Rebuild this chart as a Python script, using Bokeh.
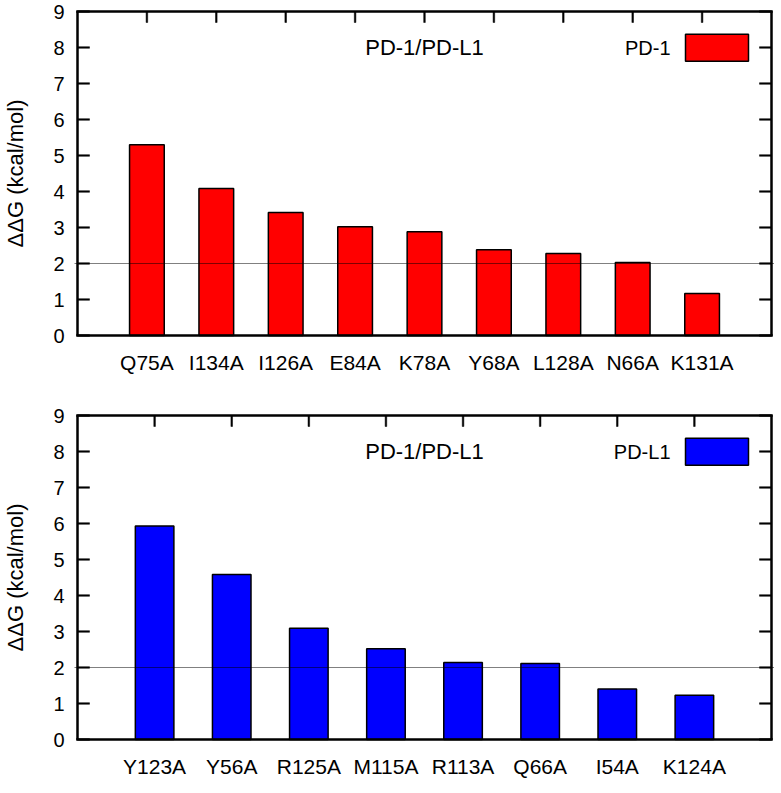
from bokeh.plotting import figure
from bokeh.models import Range1d, Span, Label, BoxAnnotation, FixedTicker
from bokeh.layouts import column
from bokeh.embed import file_html
from bokeh.resources import INLINE

# ---- data ----
pd1_mutants = ["Q75A", "I134A", "I126A", "E84A", "K78A", "Y68A", "L128A", "N66A", "K131A"]
pd1_ddg = [5.30, 4.08, 3.42, 3.02, 2.88, 2.38, 2.28, 2.03, 1.17]

pdl1_mutants = ["Y123A", "Y56A", "R125A", "M115A", "R113A", "Q66A", "I54A", "K124A"]
pdl1_ddg = [5.93, 4.58, 3.09, 2.52, 2.14, 2.11, 1.40, 1.23]

y_ticks = [0, 1, 2, 3, 4, 5, 6, 7, 8, 9]
threshold = 2.0
panel_title = "PD-1/PD-L1"
y_label = "ΔΔG (kcal/mol)"

FONT = "Liberation Sans"
FRAME_W = 700
FRAME_H = 330
PAD = 3  # px between Bokeh's frame edge and the drawn box


def make_panel(cats, vals, color, legend_text, top_border, bottom_border):
    n = len(cats)
    xs = list(range(1, n + 1))
    x0, x1 = 0, n + 1
    y0, y1 = y_ticks[0], y_ticks[-1]
    ux = (x1 - x0) / (FRAME_W - 2 * PAD)
    uy = (y1 - y0) / (FRAME_H - 2 * PAD)
    p = figure(
        x_range=Range1d(x0 - PAD * ux, x1 + PAD * ux),
        y_range=Range1d(y0 - PAD * uy, y1 + PAD * uy),
        frame_width=FRAME_W, frame_height=FRAME_H,
        min_border_left=66, min_border_right=2,
        min_border_top=top_border, min_border_bottom=bottom_border,
        output_backend="svg", toolbar_location=None,
    )
    p.grid.visible = False
    p.outline_line_color = None

    p.vbar(x=xs, top=vals, width=0.5, bottom=0,
           fill_color=color, line_color="black", line_width=1.5)

    p.add_layout(Span(location=threshold, dimension="width",
                      line_color="black", line_width=1.2, line_dash="1 1"))

    # bottom axis: category names
    xa = p.xaxis[0]
    xa.ticker = FixedTicker(ticks=xs)
    xa.major_label_overrides = {x: c for x, c in zip(xs, cats)}
    xa.major_tick_line_color = None
    xa.minor_tick_line_color = None
    xa.axis_line_color = None
    xa.major_tick_out = 0
    xa.major_tick_in = 0
    xa.major_label_text_font = FONT
    xa.major_label_text_font_size = "21px"
    xa.major_label_text_color = "black"
    xa.major_label_standoff = 12

    # left axis: values
    ya = p.yaxis[0]
    ya.ticker = FixedTicker(ticks=y_ticks)
    ya.major_tick_line_color = None
    ya.minor_tick_line_color = None
    ya.axis_line_color = None
    ya.major_tick_out = 0
    ya.major_tick_in = 0
    ya.major_label_text_font = FONT
    ya.major_label_text_font_size = "20px"
    ya.major_label_text_color = "black"
    ya.major_label_standoff = 10
    ya.axis_label = y_label
    ya.axis_label_text_font = FONT
    ya.axis_label_text_font_size = "22px"
    ya.axis_label_text_font_style = "normal"
    ya.axis_label_text_color = "black"
    ya.axis_label_standoff = 22

    # plot border drawn as thin filled bars
    k = dict(fill_color="black", line_color="black", line_width=0.5)
    p.vbar(x=[x0, x1], bottom=y0, top=y1, width=2 * ux, **k)
    p.hbar(y=[y0, y1], left=x0 - ux, right=x1 + ux, height=2 * uy, **k)

    # inward ticks: left, right (values) and top (mirrored categories)
    nt = len(y_ticks)
    p.hbar(y=y_ticks, left=[x0] * nt, right=[x0 + 12 * ux] * nt, height=1.6 * uy, **k)
    p.hbar(y=y_ticks, left=[x1 - 12 * ux] * nt, right=[x1] * nt, height=1.6 * uy, **k)
    p.vbar(x=xs, bottom=[y1 - 11 * uy] * n, top=[y1] * n, width=1.6 * ux, **k)

    # in-plot title
    p.add_layout(Label(x=(x0 + x1) / 2, y=8, text=panel_title,
                       text_align="center", text_baseline="middle",
                       text_font=FONT, text_font_size="22px", text_color="black"))

    # legend (label left of key)
    box_right = x1 - 23 * ux
    box_left = box_right - 63 * ux
    p.add_layout(BoxAnnotation(left=box_left, right=box_right, bottom=7.62, top=8.37,
                               fill_color=color, fill_alpha=1.0,
                               line_color="black", line_width=1.5, line_alpha=1.0))
    p.add_layout(Label(x=box_left, y=8.0, x_offset=-15, text=legend_text,
                       text_align="right", text_baseline="middle",
                       text_font=FONT, text_font_size="20px", text_color="black"))
    return p


p1 = make_panel(pd1_mutants, pd1_ddg, "#ff0000", "PD-1", 8, 38)
p2 = make_panel(pdl1_mutants, pdl1_ddg, "#0000ff", "PD-L1", 36, 36)

layout = column(p1, p2, spacing=0)
open("out.html", "w").write(file_html(layout, INLINE))
